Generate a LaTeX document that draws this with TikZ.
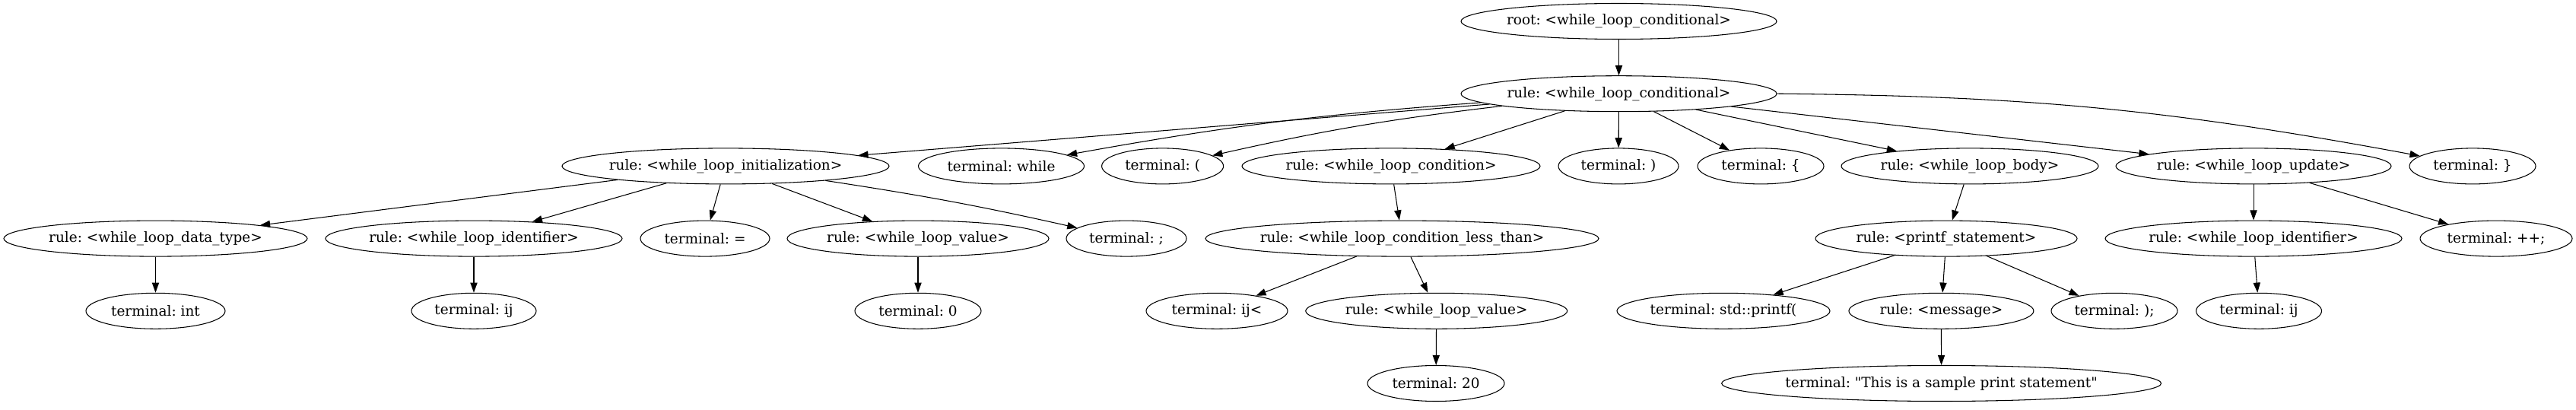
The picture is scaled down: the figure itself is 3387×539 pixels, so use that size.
\documentclass[tikz,border=0pt]{standalone}
\usepackage{fontspec}
\setmainfont{DejaVu Serif}[Ligatures=TeXOff]
\frenchspacing
\usetikzlibrary{shapes.geometric,arrows.meta}
\tikzset{
  nd/.style={ellipse, draw, line width=0.8pt, inner xsep=-8pt, inner ysep=0pt,
    minimum height={47*0.758pt}, font=\fontsize{14pt}{17pt}\selectfont},
  W/.style={minimum width={#1*0.758pt}},
  edge/.style={draw, line width=0.8pt, -{Triangle[length=10pt,width=7pt]}}
}
\begin{document}
\begin{tikzpicture}[x=0.758pt,y=-0.758pt]
\useasboundingbox (0,0) rectangle (3387,539);
% level 0
\node[nd,W=415] (root) at (2128.5,28) {root: <while\_loop\_conditional>};
% level 1
\node[nd,W=415] (cond) at (2128.5,123.2) {rule: <while\_loop\_conditional>};
% level 2
\node[nd,W=430] (init) at (954,218.4) {rule: <while\_loop\_initialization>};
\node[nd,W=218] (while) at (1316.5,218.4) {terminal: while};
\node[nd,W=160] (lp) at (1528.6,218.4) {terminal: (};
\node[nd,W=392] (condition) at (1829,218.4) {rule: <while\_loop\_condition>};
\node[nd,W=158] (rp) at (2128,218.4) {terminal: )};
\node[nd,W=166] (lb) at (2315,218.4) {terminal: \{};
\node[nd,W=338] (body) at (2590,218.4) {rule: <while\_loop\_body>};
\node[nd,W=362] (update) at (2963,218.4) {rule: <while\_loop\_update>};
\node[nd,W=166] (rb) at (3251,218.4) {terminal: \}};
% level 3
\node[nd,W=399] (dtype) at (204.5,313.6) {rule: <while\_loop\_data\_type>};
\node[nd,W=390] (ident) at (623,313.6) {rule: <while\_loop\_identifier>};
\node[nd,W=170] (eq) at (927,313.6) {terminal: =};
\node[nd,W=344] (value) at (1207,313.6) {rule: <while\_loop\_value>};
\node[nd,W=158] (semi) at (1481,313.6) {terminal: ;};
\node[nd,W=517] (less) at (1843.5,313.6) {rule: <while\_loop\_condition\_less\_than>};
\node[nd,W=344] (printf) at (2559,313.6) {rule: <printf\_statement>};
\node[nd,W=390] (identb) at (2963,313.6) {rule: <while\_loop\_identifier>};
\node[nd,W=200] (inc) at (3282,313.6) {terminal: ++;};
% level 4
\node[nd,W=183] (int) at (204.5,408.8) {terminal: int};
\node[nd,W=164] (ij) at (623,408.8) {terminal: ij};
\node[nd,W=166] (zero) at (1207,408.8) {terminal: 0};
\node[nd,W=186] (ijlt) at (1600,408.8) {terminal: ij<};
\node[nd,W=344] (valueb) at (1888.7,408.8) {rule: <while\_loop\_value>};
\node[nd,W=280] (std) at (2266,408.8) {terminal: std::printf(};
\node[nd,W=243] (msg) at (2552.4,408.8) {rule: <message>};
\node[nd,W=166] (rpsemi) at (2780,408.8) {terminal: );};
\node[nd,W=165] (ijb) at (2970,408.8) {terminal: ij};
% level 5
\node[nd,W=180] (twenty) at (1888,504) {terminal: 20};
\node[nd,W=578] (str) at (2552.6,504) {terminal: "This is a sample print statement"};
% edges
\path[edge] (root) -- (cond);
\path[edge] (cond) -- (init);
\path[edge] (cond) to[bend right=3] (while);
\path[edge] (cond) to[bend right=3] (lp);
\path[edge] (cond) -- (condition);
\path[edge] (cond) -- (rp);
\path[edge] (cond) -- (lb);
\path[edge] (cond) -- (body);
\path[edge] (cond) -- (update);
\path[edge] (cond.east) to[bend left=5] (rb);
\path[edge] (init) -- (dtype);
\path[edge] (init) -- (ident);
\path[edge] (init) -- (eq);
\path[edge] (init) -- (value);
\path[edge] (init) to[bend left=2] (semi);
\path[edge] (condition) -- (less);
\path[edge] (body) -- (printf);
\path[edge] (update) -- (identb);
\path[edge] (update) -- (inc);
\path[edge] (dtype) -- (int);
\path[edge] (ident) -- (ij);
\path[edge] (value) -- (zero);
\path[edge] (less) -- (ijlt);
\path[edge] (less) -- (valueb);
\path[edge] (printf) -- (std);
\path[edge] (printf) -- (msg);
\path[edge] (printf) -- (rpsemi);
\path[edge] (identb) -- (ijb);
\path[edge] (valueb) -- (twenty);
\path[edge] (msg) -- (str);
\end{tikzpicture}
\end{document}
